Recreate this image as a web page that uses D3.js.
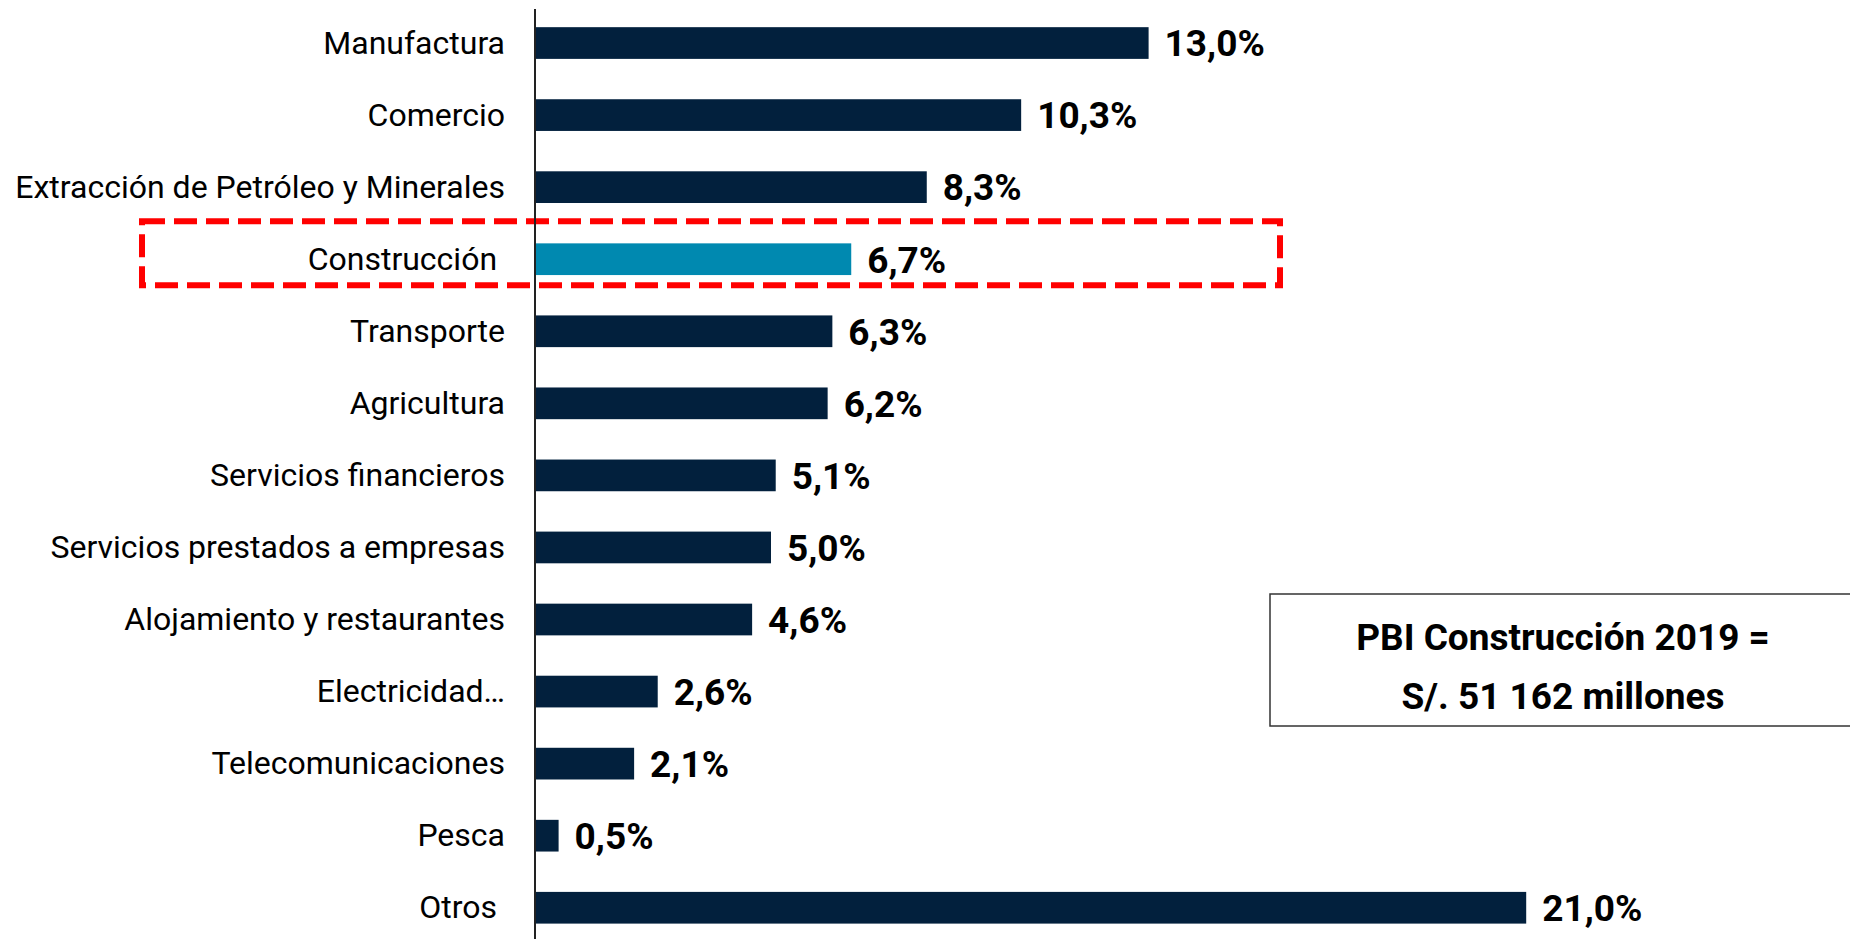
<!DOCTYPE html>
<html>
<head>
<meta charset="utf-8">
<script src="https://cdn.jsdelivr.net/npm/d3@7"></script>
<style>
  html, body { margin: 0; padding: 0; background: #fff; }
  svg { display: block; }
  text { font-family: Roboto, "Noto Sans", sans-serif; white-space: pre; }
</style>
</head>
<body>
<svg id="chart"></svg>
<script>
// sectores y participación en el PBI 2019 (%)
const sectores = [
  "Manufactura", "Comercio", "Extracción de Petróleo y Minerales", "Construcción ",
  "Transporte", "Agricultura", "Servicios financieros", "Servicios prestados a empresas",
  "Alojamiento y restaurantes", "Electricidad…", "Telecomunicaciones", "Pesca", "Otros "
];
const participacion = [13.0, 10.3, 8.3, 6.7, 6.3, 6.2, 5.1, 5.0, 4.6, 2.6, 2.1, 0.5, 21.0];
const destacado = "Construcción ";
const notaPBI = ["PBI Construcción 2019 =", "S/. 51 162 millones"];

const width = 1850, height = 939;
const x0 = 535, pxPorPunto = 47.2;

const data = sectores.map((s, i) => ({ sector: s, valor: participacion[i] }));

const svg = d3.select("#chart")
    .attr("width", width)
    .attr("height", height);

const x = d3.scaleLinear()
    .domain([0, 21])
    .range([x0, x0 + 21 * pxPorPunto]);

const y = d3.scaleBand()
    .domain(sectores)
    .range([7, 7 + 13 * 72.06])
    .paddingInner(0.56)
    .paddingOuter(0.28);

// recuadro rojo de la construcción
svg.append("rect")
    .attr("x", 142)
    .attr("y", y(destacado) + y.bandwidth() / 2 - 38)
    .attr("width", 1138)
    .attr("height", 64)
    .attr("fill", "none")
    .attr("stroke", "#ff0000")
    .attr("stroke-width", 6)
    .attr("stroke-dasharray", "23,9");

svg.selectAll(".bar")
    .data(data)
  .enter().append("rect")
    .attr("class", "bar")
    .attr("x", x(0))
    .attr("y", d => y(d.sector))
    .attr("width", d => x(d.valor) - x(0))
    .attr("height", y.bandwidth())
    .attr("fill", d => d.sector === destacado ? "#0089b0" : "#02203d");

// etiquetas de categoría
svg.selectAll(".cat")
    .data(data)
  .enter().append("text")
    .attr("class", "cat")
    .attr("x", x0 - 30)
    .attr("y", d => y(d.sector) + y.bandwidth() / 2)
    .attr("dy", "0.33em")
    .attr("text-anchor", "end")
    .attr("font-size", 32)
    .attr("fill", "#000")
    .text(d => d.sector);

// etiquetas de valor
svg.selectAll(".val")
    .data(data)
  .enter().append("text")
    .attr("class", "val")
    .attr("x", d => x(d.valor) + 16)
    .attr("y", d => y(d.sector) + y.bandwidth() / 2)
    .attr("dy", "0.36em")
    .attr("font-size", 37)
    .attr("font-weight", "bold")
    .attr("fill", "#000")
    .text(d => d.valor.toFixed(1).replace(".", ",") + "%");

// eje vertical
svg.append("line")
    .attr("x1", x0).attr("x2", x0)
    .attr("y1", 9).attr("y2", height)
    .attr("stroke", "#222")
    .attr("stroke-width", 2);

// cuadro de nota
svg.append("rect")
    .attr("x", 1270)
    .attr("y", 594)
    .attr("width", 586)
    .attr("height", 132)
    .attr("fill", "#fff")
    .attr("stroke", "#333")
    .attr("stroke-width", 1.5);

svg.selectAll(".nota")
    .data(notaPBI)
  .enter().append("text")
    .attr("class", "nota")
    .attr("x", 1563)
    .attr("y", (d, i) => 650 + i * 59)
    .attr("text-anchor", "middle")
    .attr("font-size", 37)
    .attr("font-weight", "bold")
    .attr("fill", "#000")
    .text(d => d);
</script>
</body>
</html>
